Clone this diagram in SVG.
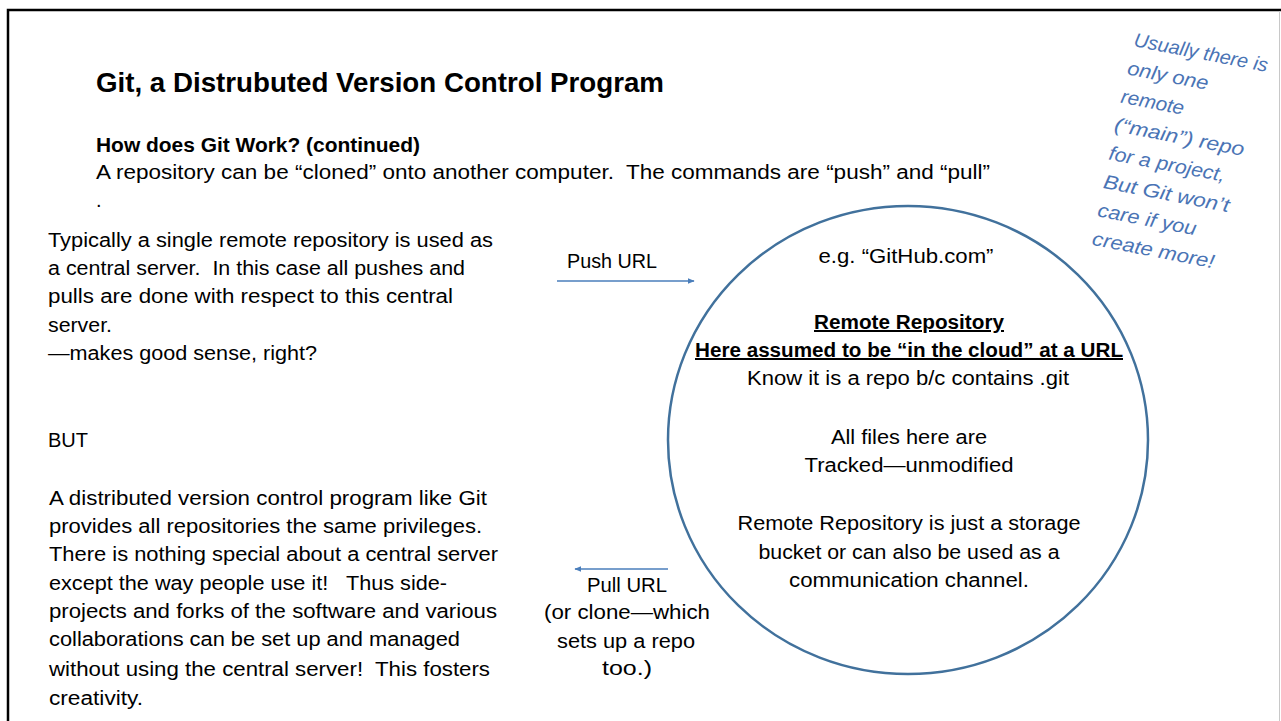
<svg xmlns="http://www.w3.org/2000/svg" width="1281" height="721" viewBox="0 0 1281 721">
<defs>
<marker id="ah" viewBox="0 0 10 10" refX="9" refY="5" markerWidth="7" markerHeight="7" markerUnits="userSpaceOnUse" orient="auto">
<path d="M0,1 L10,5 L0,9 z" fill="#4a7ebb"/>
</marker>
<style>
text{font-family:"Liberation Sans",Arial,sans-serif;fill:#000;white-space:pre}
.t{font-size:20px}
.b{font-weight:bold}
.c{text-anchor:middle}
.u{text-decoration:underline}
.n{font-size:19.5px;font-style:italic;fill:#4a74b5}
.arr{stroke:#4a7ebb;stroke-width:1.4;fill:none;marker-end:url(#ah)}
</style>
</defs>
<rect width="1281" height="721" fill="#fff"/>
<path d="M8,721 V10 H1281" fill="none" stroke="#000" stroke-width="2.5"/>
<line x1="1279.5" y1="11" x2="1279.5" y2="721" stroke="#c8c8c8" stroke-width="1"/>

<g id="header">
<text x="96" y="92" class="b" font-size="28" textLength="568" lengthAdjust="spacingAndGlyphs">Git, a Distrubuted Version Control Program</text>
<text x="96" y="152" class="t b" textLength="324" lengthAdjust="spacingAndGlyphs">How does Git Work? (continued)</text>
<text x="96" y="179" class="t" textLength="894" lengthAdjust="spacingAndGlyphs">A repository can be “cloned” onto another computer.  The commands are “push” and “pull”</text>
<text x="96" y="207" class="t">.</text>
</g>

<g id="left-text">
<text x="48" y="247" class="t" textLength="445" lengthAdjust="spacingAndGlyphs">Typically a single remote repository is used as</text>
<text x="48" y="275" class="t" textLength="417" lengthAdjust="spacingAndGlyphs">a central server.  In this case all pushes and</text>
<text x="48" y="303" class="t" textLength="405" lengthAdjust="spacingAndGlyphs">pulls are done with respect to this central</text>
<text x="48" y="332" class="t" textLength="64" lengthAdjust="spacingAndGlyphs">server.</text>
<text x="48" y="360" class="t" textLength="269" lengthAdjust="spacingAndGlyphs">—makes good sense, right?</text>
<text x="48" y="447" class="t" textLength="40" lengthAdjust="spacingAndGlyphs">BUT</text>
<text x="49" y="505" class="t" textLength="438" lengthAdjust="spacingAndGlyphs">A distributed version control program like Git</text>
<text x="49" y="533" class="t" textLength="433" lengthAdjust="spacingAndGlyphs">provides all repositories the same privileges.</text>
<text x="49" y="561" class="t" textLength="449" lengthAdjust="spacingAndGlyphs">There is nothing special about a central server</text>
<text x="49" y="590" class="t" textLength="398" lengthAdjust="spacingAndGlyphs">except the way people use it!   Thus side-</text>
<text x="49" y="618" class="t" textLength="448" lengthAdjust="spacingAndGlyphs">projects and forks of the software and various</text>
<text x="49" y="646" class="t" textLength="411" lengthAdjust="spacingAndGlyphs">collaborations can be set up and managed</text>
<text x="49" y="676" class="t" textLength="441" lengthAdjust="spacingAndGlyphs">without using the central server!  This fosters</text>
<text x="49" y="705" class="t" textLength="94" lengthAdjust="spacingAndGlyphs">creativity.</text>
</g>

<g id="remote-repo">
<ellipse cx="908" cy="440" rx="240" ry="234" fill="none" stroke="#41719c" stroke-width="2.5"/>
<text x="906" y="263" class="t c" textLength="175" lengthAdjust="spacingAndGlyphs">e.g. “GitHub.com”</text>
<text x="909" y="329" class="t c b u" textLength="190" lengthAdjust="spacingAndGlyphs">Remote Repository</text>
<text x="909" y="357" class="t c b u" textLength="428" lengthAdjust="spacingAndGlyphs">Here assumed to be “in the cloud” at a URL</text>
<text x="908" y="385" class="t c" textLength="322" lengthAdjust="spacingAndGlyphs">Know it is a repo b/c contains .git</text>
<text x="909" y="444" class="t c" textLength="156" lengthAdjust="spacingAndGlyphs">All files here are</text>
<text x="909" y="472" class="t c" textLength="209" lengthAdjust="spacingAndGlyphs">Tracked—unmodified</text>
<text x="909" y="530" class="t c" textLength="343" lengthAdjust="spacingAndGlyphs">Remote Repository is just a storage</text>
<text x="909" y="559" class="t c" textLength="301" lengthAdjust="spacingAndGlyphs">bucket or can also be used as a</text>
<text x="909" y="587" class="t c" textLength="240" lengthAdjust="spacingAndGlyphs">communication channel.</text>
</g>

<g id="push-label">
<text x="612" y="268" class="t c" textLength="90" lengthAdjust="spacingAndGlyphs">Push URL</text>
</g>
<g id="pull-label">
<text x="627" y="592" class="t c" textLength="80" lengthAdjust="spacingAndGlyphs">Pull URL</text>
<text x="627" y="619" class="t c" textLength="166" lengthAdjust="spacingAndGlyphs">(or clone—which</text>
<text x="626" y="648" class="t c" textLength="138" lengthAdjust="spacingAndGlyphs">sets up a repo</text>
<text x="627" y="675" class="t c" textLength="50" lengthAdjust="spacingAndGlyphs">too.)</text>
</g>

<g id="connectors">
<line class="arr" x1="557" y1="281" x2="694" y2="281"/>
<line class="arr" x1="668" y1="569" x2="575" y2="569"/>
</g>

<g id="note" transform="translate(1133,46) rotate(11)">
<text x="0" y="0" class="n" textLength="136" lengthAdjust="spacingAndGlyphs">Usually there is</text>
<text x="-1" y="29" class="n" textLength="82" lengthAdjust="spacingAndGlyphs">only one</text>
<text x="-2" y="58" class="n" textLength="64" lengthAdjust="spacingAndGlyphs">remote</text>
<text x="-3" y="87" class="n" textLength="132" lengthAdjust="spacingAndGlyphs">(“main”) repo</text>
<text x="-3" y="116" class="n" textLength="118" lengthAdjust="spacingAndGlyphs">for a project,</text>
<text x="-3" y="145" class="n" textLength="128" lengthAdjust="spacingAndGlyphs">But Git won’t</text>
<text x="-3" y="174" class="n" textLength="100" lengthAdjust="spacingAndGlyphs">care if you</text>
<text x="-3" y="203" class="n" textLength="124" lengthAdjust="spacingAndGlyphs">create more!</text>
</g>
</svg>
